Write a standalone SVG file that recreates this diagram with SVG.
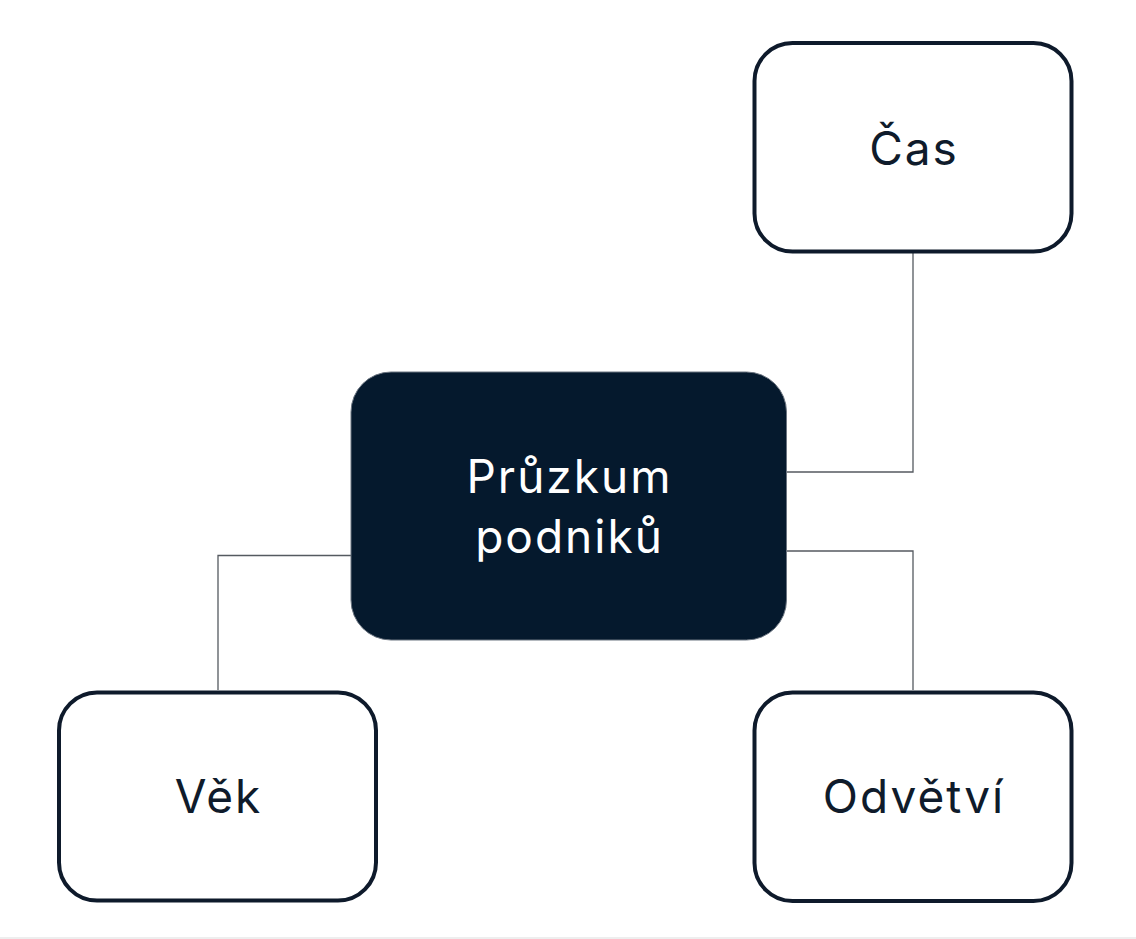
<svg xmlns="http://www.w3.org/2000/svg" width="1136" height="939" viewBox="0 0 1136 939">
<style>
.box{fill:#ffffff;stroke:#0e1a2b;stroke-width:4}
.center{fill:#05192d;stroke:#6b7480;stroke-width:1}
.lbl{font-family:Inter,"Noto Sans","Liberation Sans",sans-serif;font-size:46px;letter-spacing:2px;fill:#0f1b2b;text-anchor:middle}
.wlbl{font-family:Inter,"Noto Sans","Liberation Sans",sans-serif;font-size:46px;letter-spacing:2px;fill:#ffffff;text-anchor:middle}
.conn{fill:none;stroke:#555a60;stroke-width:1.3}
</style>
<rect x="0" y="0" width="1136" height="939" fill="#ffffff"/>
<rect x="0" y="937" width="1136" height="2" fill="#eeeeee"/>
<g id="connectors">
<polyline class="conn" points="787,472 913,472 913,252"/>
<polyline class="conn" points="787,551 913,551 913,690"/>
<polyline class="conn" points="351,555.5 218,555.5 218,690"/>
</g>
<g id="node-center">
<rect class="center" x="351" y="372" width="435.5" height="268" rx="40" ry="40"/>
<text class="wlbl" x="569.5" y="493">Průzkum</text>
<text class="wlbl" x="569.5" y="553">podniků</text>
</g>
<g id="node-cas">
<rect class="box" x="754.5" y="43" width="317" height="208.5" rx="38" ry="38"/>
<text class="lbl" x="914" y="165">Čas</text>
</g>
<g id="node-vek">
<rect class="box" x="59" y="692.5" width="317" height="208" rx="38" ry="38"/>
<text class="lbl" x="218.5" y="813">Věk</text>
</g>
<g id="node-odvetvi">
<rect class="box" x="754.5" y="692.5" width="317" height="208.5" rx="38" ry="38"/>
<text class="lbl" x="914" y="813">Odvětví</text>
</g>
</svg>
